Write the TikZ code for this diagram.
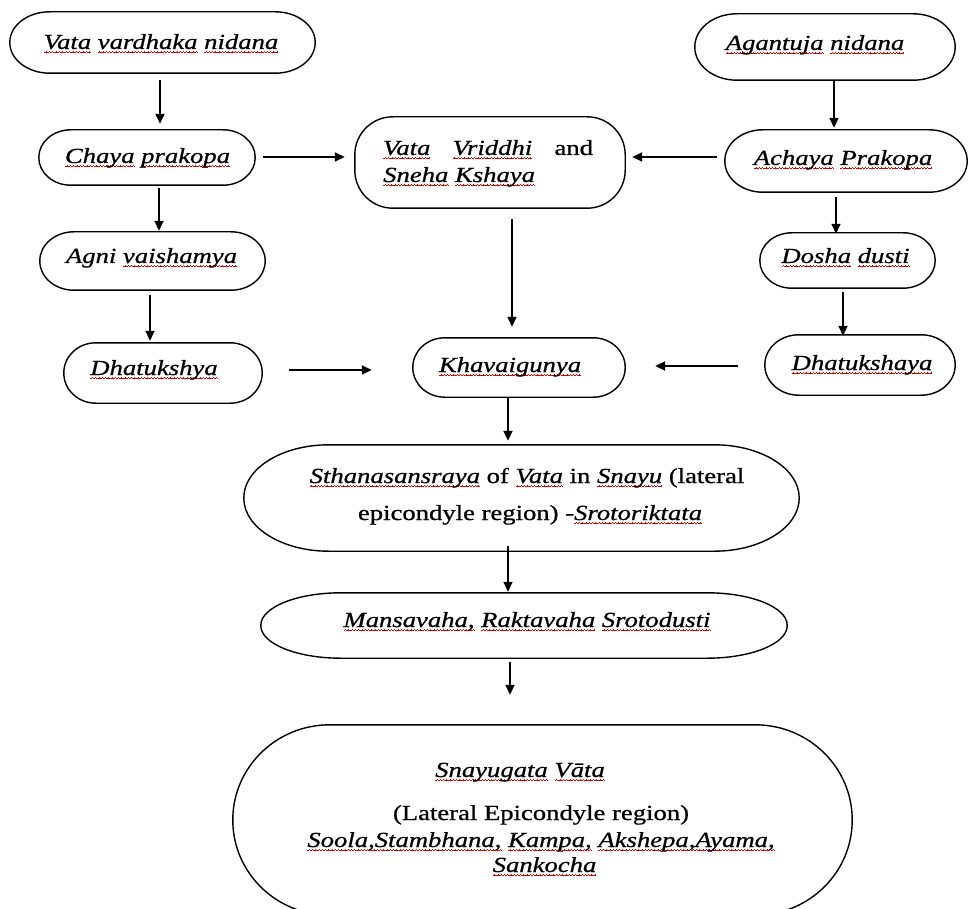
\documentclass[tikz,border=0pt]{standalone}
\usepackage{fontspec}
\setmainfont[FakeStretch=1.24,FakeBold=0.8]{Liberation Serif}
\usetikzlibrary{arrows.meta,calc}
% red spell-check style squiggle under a word
\newcommand\wv{\rule[-3.9pt]{0.8pt}{0.75pt}\rule[-3.3pt]{0.8pt}{0.75pt}\rule[-2.7pt]{0.8pt}{0.75pt}\rule[-3.3pt]{0.8pt}{0.75pt}}
\newcommand\rw[1]{\begingroup\setbox0\hbox{#1}\leavevmode\rlap{\color{red!85!black}\xleaders\hbox{\wv}\hskip\wd0}\box0\endgroup}
% outline with elliptical ends: node, x radius, y radius
\newcommand\capsule[3]{%
  \draw[outline] ([xshift=#2]#1.north west) -- ([xshift=-#2]#1.north east)
    arc[start angle=90,end angle=0,x radius=#2,y radius=#3]
    -- ([yshift=#3]#1.south east)
    arc[start angle=0,end angle=-90,x radius=#2,y radius=#3]
    -- ([xshift=#2]#1.south west)
    arc[start angle=270,end angle=180,x radius=#2,y radius=#3]
    -- ([yshift=-#3]#1.north west)
    arc[start angle=180,end angle=90,x radius=#2,y radius=#3] -- cycle;}
\tikzset{
  boxnode/.style={rectangle, inner sep=0pt, draw=none},
  outline/.style={draw=black, line width=1.4pt},
  txt/.style={font=\fontsize{21.5}{26}\selectfont\itshape, inner sep=0pt, anchor=base},
  arr/.style={-{Triangle[length=10pt,width=9pt]}, line width=1.8pt, draw=black},
}
\begin{document}
\begin{tikzpicture}[x=1pt,y=-1pt]
\useasboundingbox (0,0) rectangle (969,909);
\clip (0,0) rectangle (969,909);
\fill[white] (0,0) rectangle (969,909);
% boxes
\node[boxnode, minimum width=305pt, minimum height=61pt] (nidA) at (162.5,42.5) {};
\node[boxnode, minimum width=260pt, minimum height=66pt] (nidB) at (825,47) {};
\node[boxnode, minimum width=216pt, minimum height=55pt] (chaya) at (147,157.5) {};
\node[boxnode, minimum width=270pt, minimum height=91pt] (vv) at (490,162.5) {};
\node[boxnode, minimum width=242pt, minimum height=62pt] (achaya) at (846,161) {};
\node[boxnode, minimum width=225pt, minimum height=58pt] (agni) at (152.5,261) {};
\node[boxnode, minimum width=175pt, minimum height=55pt] (dosha) at (847.5,260.5) {};
\node[boxnode, minimum width=198pt, minimum height=60pt] (dhA) at (163,373) {};
\node[boxnode, minimum width=212pt, minimum height=59pt] (khava) at (519,367.5) {};
\node[boxnode, minimum width=190pt, minimum height=60pt] (dhB) at (860,365) {};
\node[boxnode, minimum width=555pt, minimum height=106pt] (sth) at (521.5,498) {};
\node[boxnode, minimum width=526pt, minimum height=65pt] (mans) at (524,625.5) {};
\node[boxnode, minimum width=619pt, minimum height=190pt] (snay) at (542.5,820) {};
\capsule{nidA}{40pt}{30.5pt}
\capsule{nidB}{42pt}{33pt}
\capsule{chaya}{32pt}{27.5pt}
\capsule{vv}{38pt}{38pt}
\capsule{achaya}{38pt}{31pt}
\capsule{agni}{34pt}{29pt}
\capsule{dosha}{32pt}{27.5pt}
\capsule{dhA}{32pt}{30pt}
\capsule{khava}{32pt}{29.5pt}
\capsule{dhB}{34pt}{30pt}
\capsule{sth}{85pt}{53pt}
\capsule{mans}{80pt}{32.5pt}
\capsule{snay}{97pt}{95pt}
% texts
\node[txt] (nidAT) at (161,49) {\rw{Vata} \rw{vardhaka} \rw{nidana}};
\node[txt] (nidBT) at (815,50) {\rw{Agantuja} \rw{nidana}};
\node[txt] (chayaT) at (147.5,163) {\rw{Chaya} \rw{prakopa}};
\node[txt] (vvT1) at (488,155) {\hbox to 210pt{\rw{Vata}\hfill\rw{Vriddhi}\hfill\upshape and}};
\node[txt, anchor=base west] (vvT2) at (383,182) {\rw{Sneha} \rw{Kshaya}};
\node[txt] (achayaT) at (843,165) {\rw{Achaya} \rw{Prakopa}};
\node[txt] (agniT) at (151.5,263) {Agni \rw{vaishamya}};
\node[txt] (doshaT) at (845.5,263) {\rw{Dosha} \rw{dusti}};
\node[txt] (dhAT) at (154,375) {\rw{Dhatukshya}};
\node[txt] (khavaT) at (510,372) {\rw{Khavaigunya}};
\node[txt] (dhBT) at (862,370) {\rw{Dhatukshaya}};
\node[txt] (sthT1) at (527,483) {\rw{Sthanasansraya} \upshape of \itshape\rw{Vata} \upshape in \itshape\rw{Snayu} \upshape(lateral};
\node[txt] (sthT2) at (530,520) {\upshape epicondyle region) -\itshape\rw{Srotoriktata}};
\node[txt] (mansT) at (527,627) {\rw{Mansavaha,} \rw{Raktavaha} \rw{Srotodusti}};
\node[txt] (snT1) at (520,777) {\rw{Snayugata} \rw{Vāta}};
\node[txt] (snT2) at (541,820) {\upshape(Lateral Epicondyle region)};
\node[txt] (snT3) at (541,847) {\rw{Soola,Stambhana,} \rw{Kampa,} \rw{Akshepa,Ayama,}};
\node[txt] (snT4) at (544.5,872) {\rw{Sankocha}};
% connectors
\draw[arr] ($(nidA.south)+(-2.5,7)$) -- ($(chaya.north)+(13,-6)$);
\draw[arr] ($(chaya.east)+(8,-0.5)$) -- ($(vv.west)+(-10,-5.5)$);
\draw[arr] ($(achaya.west)+(-8,-4)$) -- ($(vv.east)+(7,-5.5)$);
\draw[arr] ($(nidB.south)+(9,0)$) -- ($(achaya.north)+(-12,-2)$);
\draw[arr] ($(chaya.south)+(12,3)$) -- ($(agni.north)+(6.5,-1)$);
\draw[arr] ($(agni.south)+(-2.5,5)$) -- ($(dhA.north)+(-13,-2)$);
\draw[arr] ($(dhA.east)+(27,-3)$) -- ($(khava.west)+(-41,2.5)$);
\draw[arr] ($(vv.south)+(22,11)$) -- ($(khava.north)+(-7,-11)$);
\draw[arr] ($(achaya.south)+(-10,5)$) -- ($(dosha.north)+(-11.5,1)$);
\draw[arr] ($(dosha.south)+(-4.5,4)$) -- ($(dhB.north)+(-17,1)$);
\draw[arr] ($(dhB.west)+(-27,1)$) -- ($(khava.east)+(30,-1.5)$);
\draw[arr] ($(khava.south)+(-11,0)$) -- ($(sth.north)+(-13.5,-4)$);
\draw[arr] ($(sth.south)+(-13.5,-5)$) -- ($(mans.north)+(-16,-1)$);
\draw[arr] ($(mans.south)+(-14,4)$) -- ($(snay.north)+(-32.5,-30)$);
\end{tikzpicture}
\end{document}
